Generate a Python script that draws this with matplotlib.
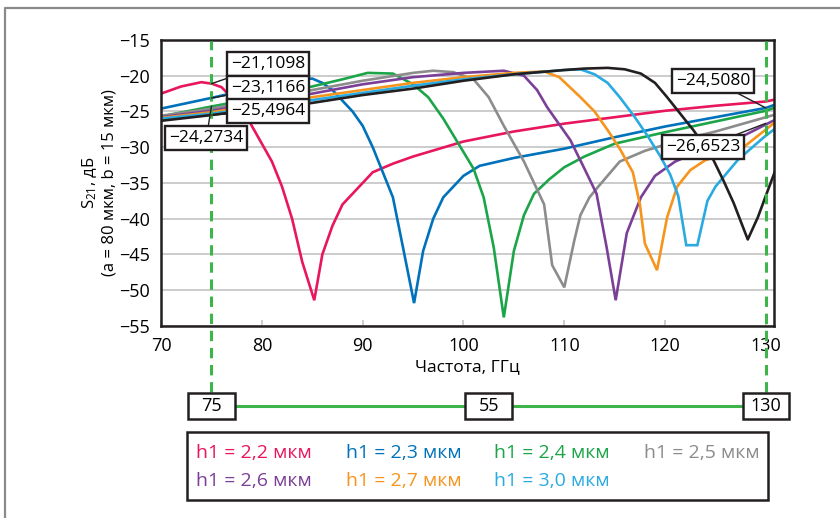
import numpy as np
import matplotlib.pyplot as plt
from matplotlib.lines import Line2D
from matplotlib.patches import Rectangle

plt.rcParams['font.family'] = ['Open Sans', 'DejaVu Sans']
plt.rcParams['mathtext.fontset'] = 'custom'
plt.rcParams['mathtext.rm'] = 'Open Sans'
plt.rcParams['mathtext.it'] = 'Open Sans'

# Кривые S21(f) для разных h1
x_22 = [70, 72, 74, 75, 76, 78, 79, 80, 81, 82, 83, 84, 85.2, 86, 87, 88, 89, 91, 93, 95, 100, 105, 110, 115, 120, 125, 130, 131]
y_22 = [-22.5, -21.5, -20.9, -21.1, -21.6, -24.5, -27, -29.5, -32, -35.5, -40, -46, -51.4, -45, -41, -38, -36.5, -33.5, -32.3, -31.3, -29.2, -27.8, -26.7, -25.8, -24.9, -24.2, -23.6, -23.3]

x_23 = [70, 75, 80, 83, 85, 86, 87, 88, 89, 90, 91, 92, 93, 94, 95.1, 96, 97, 98, 99, 100, 101.6, 105, 110, 115, 120, 125, 130, 131]
y_23 = [-24.6, -23.1, -21.5, -20.6, -20.4, -21, -22, -23.5, -25, -27, -30, -33.5, -37, -44, -51.8, -44.5, -40, -37, -35.5, -34, -32.6, -31.5, -30.2, -28.6, -27.1, -25.8, -24.5, -24.0]

x_24 = [70, 75, 80, 85, 88, 90.5, 93, 95, 96.5, 98, 99.5, 101, 102, 103, 104, 105, 106, 107, 108.5, 110, 112, 115, 120, 125, 130, 131]
y_24 = [-25.7, -24.3, -23, -21.5, -20.5, -19.6, -19.7, -21.2, -23, -26, -29.5, -33, -37, -44, -53.8, -44.5, -39.5, -36.5, -34.5, -32.8, -31.3, -29.5, -27.9, -26.4, -24.9, -24.4]

x_25 = [70, 75, 80, 85, 90, 95, 97, 99, 101, 102.5, 104, 105, 106, 107, 108, 108.8, 110, 111, 111.6, 112.5, 113.5, 115.5, 118, 121.5, 125, 130, 131]
y_25 = [-25.6, -24.6, -23.3, -22, -20.7, -19.6, -19.3, -19.5, -20.5, -23, -27, -29.5, -32, -35, -38, -46.5, -49.6, -43, -39.5, -37, -35.3, -32, -30.5, -29, -27.8, -25.8, -25.4]

x_26 = [70, 75, 80, 85, 90, 95, 100, 104, 106, 107.3, 108.3, 109.5, 110.6, 112, 113.2, 114.2, 115.1, 116.2, 117.6, 119, 121, 124, 127.5, 131]
y_26 = [-25.8, -24.9, -23.7, -22.5, -21.2, -20.2, -19.6, -19.3, -20, -22, -24.4, -26.8, -29, -33, -36.5, -44, -51.4, -42, -37, -34, -32, -30.2, -28.6, -26.1]

x_27 = [70, 75, 80, 85, 90, 95, 100, 105, 108, 109.5, 111.6, 113, 114.3, 115.5, 116.8, 117.5, 118, 119.2, 120.2, 121.2, 122.5, 124, 127.5, 131]
y_27 = [-25.9, -25.1, -24, -23, -22, -21, -20.2, -19.6, -19.4, -20.2, -23, -25, -27.6, -30.2, -33.5, -38, -43.5, -47.2, -39.8, -35.5, -33.2, -31.8, -30.3, -26.4]

x_30 = [70, 75, 80, 85, 90, 95, 100, 105, 110, 111.6, 113, 114.3, 115.5, 117, 118.3, 119.5, 120.5, 121.3, 122.1, 123.2, 124.2, 125, 127.2, 129.8, 131]
y_30 = [-26.0, -25.3, -24.4, -23.4, -22.4, -21.4, -20.5, -19.8, -19.2, -19.1, -19.8, -21, -23, -25.8, -28.5, -31.2, -33.8, -36.8, -43.7, -43.7, -37.5, -35.5, -31.8, -28.6, -27.3]

x_blk = [70, 75, 80, 85, 90, 95, 100, 105, 110, 112, 114.3, 116, 117.6, 119, 120.2, 121.5, 122.8, 124, 124.8, 125.8, 126.8, 128.2, 129.2, 130.2, 131]
y_blk = [-26.3, -25.5, -24.6, -23.8, -22.7, -21.8, -20.7, -19.8, -19.2, -19.0, -18.9, -19.1, -19.7, -21, -23, -25.3, -27.6, -30, -31.8, -34.7, -37.8, -42.9, -39.8, -36, -33.0]

labels = ['h1 = 2,2 мкм', 'h1 = 2,3 мкм', 'h1 = 2,4 мкм', 'h1 = 2,5 мкм',
          'h1 = 2,6 мкм', 'h1 = 2,7 мкм', 'h1 = 3,0 мкм']
colors = ['#E8175D', '#0072BC', '#1BA548', '#8C8C8C', '#7B3F98', '#F7941D', '#29ABE2']
series = [(x_22, y_22), (x_23, y_23), (x_24, y_24), (x_25, y_25),
          (x_26, y_26), (x_27, y_27), (x_30, y_30)]

# Подписи значений в точках 75 и 130 ГГц
ann_x = [75, 75, 75, 75, 130, 130]
ann_y = [-21.1098, -23.1166, -25.4964, -24.2734, -24.5080, -26.6523]
ann_pos = [(80.6, -18.4), (80.6, -21.7), (80.6, -24.9), (74.5, -28.7), (124.8, -20.7), (123.8, -30.0)]

f_lo, f_hi = 75, 130

fig = plt.figure(figsize=(8.4, 5.18), dpi=100)
ax = fig.add_axes([0.1917, 0.3707, 0.7297, 0.5521])

for (xs, ys), c in zip(series, colors):
    ax.plot(xs, ys, color=c, lw=1.9, solid_joinstyle='miter')
ax.plot(x_blk, y_blk, color='#231F20', lw=1.9)

ax.set_xlim(70, 130.8)
ax.set_ylim(-55, -15)
ax.set_xticks(np.arange(70, 131, 10))
ax.set_yticks(np.arange(-55, -14, 5))
ax.yaxis.grid(True, color='#C4C4C4', lw=1.2)
ax.set_axisbelow(True)
ax.tick_params(axis='y', length=0, labelsize=13, pad=8)
ax.tick_params(axis='x', direction='in', length=4, color='#C4C4C4', width=1.2, labelsize=13, pad=8)
for s in ax.spines.values():
    s.set_linewidth(1.8)
    s.set_color('#231F20')

ax.set_xlabel('Частота, ГГц', fontsize=12.5, labelpad=3)
ax.set_ylabel('S$_{21}$, дБ\n(a = 80 мкм, b = 15 мкм)', fontsize=12, labelpad=1, linespacing=1.25)

# зелёные пунктиры и полоса
for xv in (f_lo, f_hi):
    ax.axvline(xv, ymin=-0.23, ymax=0.995, color='#3DB54A', lw=2.2, ls=(0, (3.4, 2.2)), clip_on=False, zorder=5)
xt = ax.get_xaxis_transform()
yb = -0.28
bw, bh = 4.6, 0.091
ax.plot([f_lo, f_hi], [yb, yb], color='#3DB54A', lw=2.2, transform=xt, clip_on=False)
for xv, t in [(f_lo, str(f_lo)), ((f_lo + f_hi) / 2, str(f_hi - f_lo)), (f_hi, str(f_hi))]:
    ax.add_patch(Rectangle((xv - bw / 2, yb - bh / 2), bw, bh, transform=xt, fc='white', ec='#231F20',
                           lw=1.8, clip_on=False, zorder=6))
    ax.text(xv, yb, t, transform=xt, ha='center', va='center', fontsize=13, zorder=7)

for xa, ya, (tx, ty) in zip(ann_x, ann_y, ann_pos):
    s = ('%.4f' % ya).replace('-', '−').replace('.', ',')
    ax.annotate(s, xy=(xa, ya), xytext=(tx, ty), ha='center', va='center', fontsize=12.5,
                bbox=dict(boxstyle='square,pad=0.22', fc='white', ec='#231F20', lw=1.7),
                arrowprops=dict(arrowstyle='-', color='#231F20', lw=1.0, shrinkA=0, shrinkB=0),
                zorder=7, annotation_clip=False)

# легенда
fig.patches.append(Rectangle((187 / 840, 1 - 500 / 518), 581 / 840, 68 / 518, transform=fig.transFigure,
                             fill=False, ec='#231F20', lw=1.8))
col_x = [196, 346, 494, 644]
row_y = [453, 481]
for i, (lab, c) in enumerate(zip(labels, colors)):
    fig.text(col_x[i % 4] / 840, 1 - row_y[i // 4] / 518, lab, color=c, fontsize=14, va='center', ha='left')

# рамка рисунка
fig.add_artist(Line2D([5 / 840, 5 / 840, 1], [0, 1 - 8 / 518, 1 - 8 / 518], transform=fig.transFigure,
                      color='#8A8A8A', lw=1.6))

fig.savefig('out.png', dpi=100)
